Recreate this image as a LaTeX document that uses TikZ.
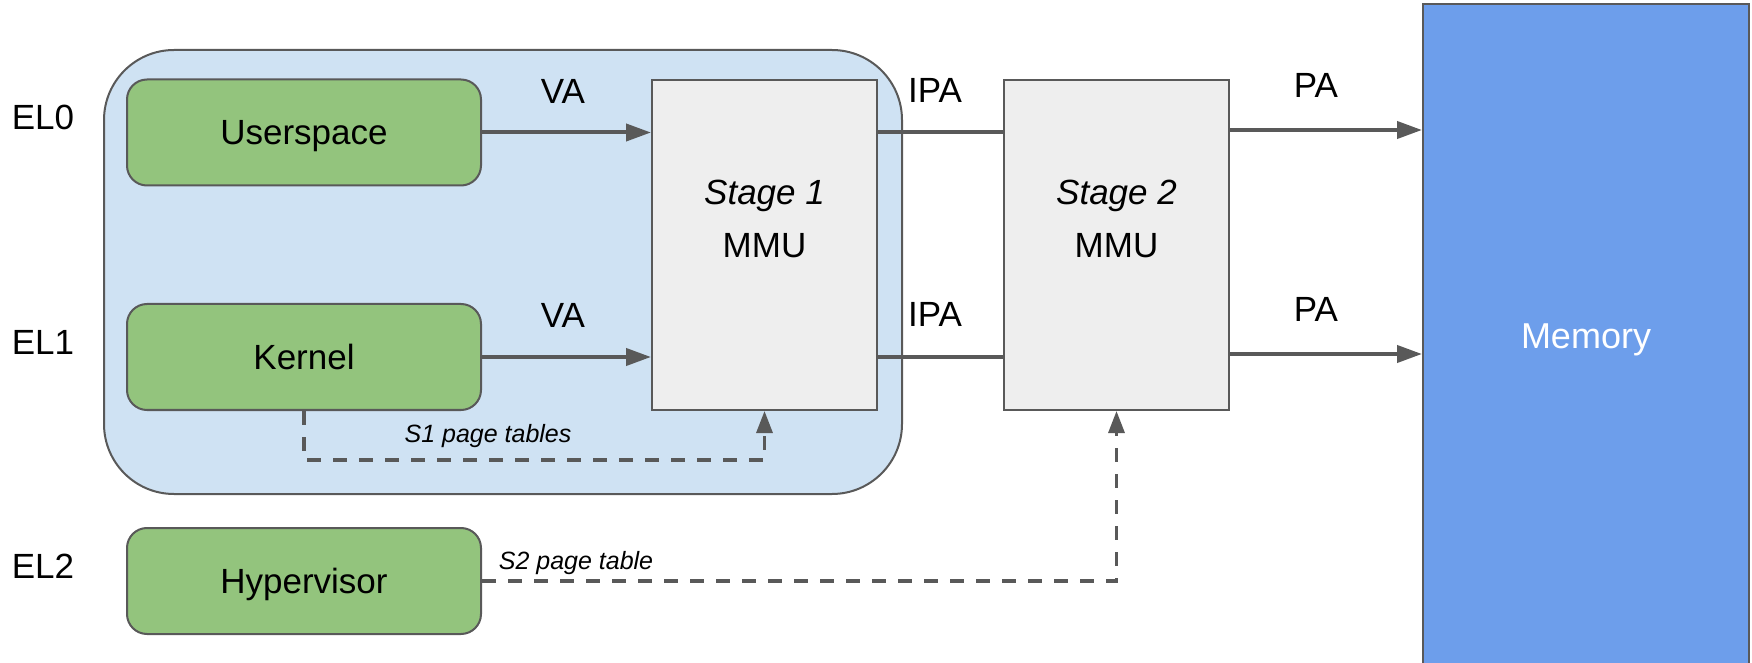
\documentclass[tikz,border=0pt]{standalone}
\usepackage{fontspec}
\setmainfont{Liberation Sans}
\usetikzlibrary{arrows.meta}
\definecolor{lgreen}{HTML}{93C47D}
\definecolor{lblue}{HTML}{CFE2F3}
\definecolor{membl}{HTML}{6D9EEB}
\definecolor{lgray}{HTML}{EEEEEE}
\definecolor{dgray}{HTML}{595959}
\tikzset{
  greenbox/.style={draw=dgray, line width=1pt, fill=lgreen, rounded corners=10pt,
    minimum width=177pt, minimum height=53pt, font=\fontsize{17.5}{20}\selectfont,
    inner sep=0pt, text depth=0pt},
  mmubox/.style={draw=dgray, line width=1pt, fill=lgray, minimum width=112.5pt,
    minimum height=165pt, font=\fontsize{17.5}{26.5}\selectfont, inner sep=0pt, align=center},
  bigtxt/.style={font=\fontsize{17.5}{20}\selectfont, inner sep=0pt, text depth=0pt},
  smalltxt/.style={font=\fontsize{12.5}{15}\selectfont\itshape, inner sep=0pt},
  conn/.style={draw=dgray, line width=2pt},
  arr/.style={conn, -{Triangle[length=12.5pt,width=8.5pt]}},
  darr/.style={draw=dgray, line width=1.6pt, dash pattern=on 7pt off 6pt, -{Triangle[length=11pt,width=8pt]}},
}
\begin{document}
\begin{tikzpicture}[x=0.5pt,y=-0.5pt]
\useasboundingbox (0,0) rectangle (1752,663);
% container
\node[draw=dgray, line width=1pt, fill=lblue, rounded corners=35pt,
  minimum width=399pt, minimum height=222pt, inner sep=0pt] (cont) at (503,272) {};
% memory
\node[draw=dgray, line width=1pt, fill=membl, minimum width=163pt, minimum height=332pt,
  inner sep=0pt, text=white, text depth=0pt, font=\fontsize{18}{20}\selectfont] (mem) at (1586,336) {Memory};
% boxes
\node[greenbox] (us) at (304,132.5) {Userspace};
\node[greenbox] (ke) at (304,357) {Kernel};
\node[greenbox] (hy) at (304,581) {Hypervisor};
\node[mmubox] (s1) at (764.5,245) {\itshape Stage 1\\MMU\\\mbox{}};
\node[mmubox] (s2) at (1116.5,245) {\itshape Stage 2\\MMU\\\mbox{}};
% EL labels
\node[bigtxt] (el0) at (43,117) {EL0};
\node[bigtxt] (el1) at (43,342) {EL1};
\node[bigtxt] (el2) at (43,566) {EL2};
% connectors
\draw[arr] (us.east) -- (s1.west |- us.east);
\draw[arr] (ke.east) -- (s1.west |- ke.east);
\draw[conn] (s1.east |- us.east) -- (s2.west |- us.east);
\draw[conn] (s1.east |- ke.east) -- (s2.west |- ke.east);
\coordinate (p1) at (1228.5,130);
\coordinate (p2) at (1228.5,354);
\draw[arr] (p1) -- (mem.west |- p1);
\draw[arr] (p2) -- (mem.west |- p2);
% labels
\node[bigtxt] (va1) at (563,91) {VA};
\node[bigtxt] (va2) at (563,315) {VA};
\node[bigtxt] (ipa1) at (935,90) {IPA};
\node[bigtxt] (ipa2) at (935,314) {IPA};
\node[bigtxt] (pa1) at (1316,85) {PA};
\node[bigtxt] (pa2) at (1316,309) {PA};
% dashed
\coordinate (k1) at (304,460);
\draw[darr] (ke.south) -- (k1) -| (s1.south);
\draw[darr] (hy.east) -| (s2.south);
\node[smalltxt] (s1l) at (488,436) {S1 page tables};
\node[smalltxt] (s2l) at (576,563) {S2 page table};
\end{tikzpicture}
\end{document}
